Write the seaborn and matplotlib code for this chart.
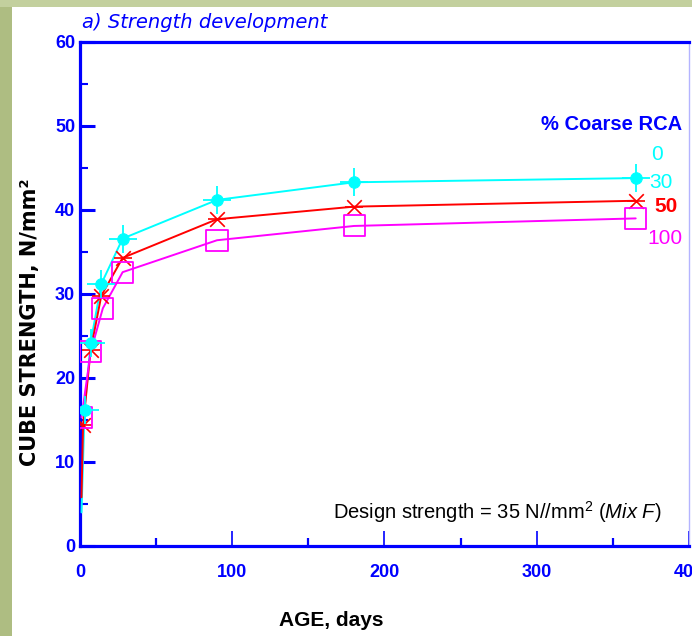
import matplotlib
matplotlib.use("Agg")
import matplotlib.pyplot as plt
import seaborn as sns
import pandas as pd
from matplotlib.patches import Rectangle

# Test ages (days) and mean cube strengths (N/mm^2) per % coarse RCA
age_0 = [3, 7, 14, 28, 90, 180, 365]
strength_0 = [16.2, 24.2, 31.2, 36.6, 41.2, 43.3, 43.8]
age_50 = [2, 7, 14, 28, 90, 180, 365]
strength_50 = [14.4, 23.3, 29.8, 34.3, 38.9, 40.4, 41.1]
age_100 = [1, 7, 15, 28, 90, 180, 365]
strength_100 = [15.3, 23.1, 28.3, 32.6, 36.4, 38.1, 39.0]

# Early-age start of each fitted curve
curve_start_age = [1, 1, 1]
curve_start_strength = [4.0, 5.8, 15.3]

legend_title = "% Coarse RCA"
legend_labels = ["0", "30", "50", "100"]
x_ticks = [0, 100, 200, 300, 400]
y_ticks = [0, 10, 20, 30, 40, 50, 60]

CYAN = "#00FFFF"
RED = "#FF0000"
MAGENTA = "#FF00FF"
BLUE = "#0000FF"

sns.set_theme(style="white")
plt.rcParams["font.family"] = ["Liberation Sans", "DejaVu Sans"]
plt.rcParams["mathtext.fontset"] = "custom"
plt.rcParams["mathtext.rm"] = "Liberation Sans"
plt.rcParams["mathtext.it"] = "Liberation Sans:italic"
plt.rcParams["mathtext.bf"] = "Liberation Sans:bold"

fig = plt.figure(figsize=(6.92, 6.36), dpi=100)
fig.patch.set_facecolor("white")

# textured green frame strips along the top and left edge
fig.add_artist(Rectangle((0, 0), 12 / 692, 1, transform=fig.transFigure,
                         facecolor="#aebd82", edgecolor="none", zorder=0))
fig.add_artist(Rectangle((0, 1 - 7 / 636), 1, 7 / 636, transform=fig.transFigure,
                         facecolor="#c3d09e", edgecolor="none", zorder=0))

ax = fig.add_axes([80 / 692, 1 - 546 / 636, 609 / 692, 504 / 636])
ax.set_facecolor("white")

series = [
    (age_0, strength_0, CYAN, 0),
    (age_50, strength_50, RED, 1),
    (age_100, strength_100, MAGENTA, 2),
]
for ages, vals, col, i in series:
    df = pd.DataFrame({"age": [curve_start_age[i]] + ages,
                       "strength": [curve_start_strength[i]] + vals})
    sns.lineplot(data=df, x="age", y="strength", color=col, lw=1.4, ax=ax,
                 estimator=None, sort=True, zorder=3)

# markers
df0 = pd.DataFrame({"age": age_0, "strength": strength_0})
sns.scatterplot(data=df0, x="age", y="strength", marker="o", s=70,
                color=CYAN, edgecolor=CYAN, ax=ax, zorder=5)
sns.scatterplot(data=df0, x="age", y="strength", marker="+", s=380,
                color=CYAN, linewidth=1.3, ax=ax, zorder=5)

df50 = pd.DataFrame({"age": age_50, "strength": strength_50})
sns.scatterplot(data=df50, x="age", y="strength", marker="x", s=110,
                color=RED, linewidth=1.2, ax=ax, zorder=4)
sns.scatterplot(data=df50, x="age", y="strength", marker="_", s=170,
                color=RED, linewidth=1.2, ax=ax, zorder=4)

df100 = pd.DataFrame({"age": age_100, "strength": strength_100})
sns.scatterplot(data=df100, x="age", y="strength", marker="s", s=230,
                facecolor="none", edgecolor=MAGENTA, linewidth=1.3, ax=ax, zorder=4)

ax.set_xlim(0, 400)
ax.set_ylim(0, 60)
ax.set_xticks(x_ticks)
ax.set_xticks([50, 150, 250, 350], minor=True)
ax.set_yticks(y_ticks)
ax.set_yticks([5, 15, 25, 35, 45, 55], minor=True)
ax.tick_params(axis="both", which="both", direction="in", colors=BLUE,
               labelcolor=BLUE, labelsize=13, bottom=True, left=True)
ax.tick_params(axis="y", which="major", length=11, width=2.2, pad=3.5)
ax.tick_params(axis="y", which="minor", length=6, width=1.5)
ax.tick_params(axis="x", which="major", length=11, width=1.2, pad=13)
ax.tick_params(axis="x", which="minor", length=5.5, width=1.6)
for lab in ax.get_xticklabels() + ax.get_yticklabels():
    lab.set_fontweight("bold")

for side in ["left", "bottom", "top"]:
    ax.spines[side].set_color(BLUE)
    ax.spines[side].set_linewidth(2.3)
ax.spines["right"].set_color("#b4b4ff")
ax.spines["right"].set_linewidth(1.0)

ax.set_xlabel("")
ax.set_ylabel("")
fig.text(331 / 692, 1 - 620 / 636, "AGE, days", ha="center", va="center",
         fontsize=15, fontweight="bold", color="black")
fig.text(30 / 692, 1 - 322 / 636, "CUBE STRENGTH, N/mm²", ha="center",
         va="center", rotation=90, fontsize=15, fontweight="bold", color="black",
         family="DejaVu Sans")
fig.text(82 / 692, 1 - 22 / 636, "a) Strength development", ha="left",
         va="center", fontsize=14, fontstyle="italic", color=BLUE,
         family="DejaVu Sans")

# series key on the right
fig.text(682 / 692, 1 - 125 / 636, legend_title, ha="right", va="center",
         fontsize=14.5, fontweight="bold", color=BLUE)
key_pos = [(657, 155, CYAN), (661, 183, CYAN), (666, 207, RED), (665, 239, MAGENTA)]
for lab, (kx, ky, kc) in zip(legend_labels, key_pos):
    fig.text(kx / 692, 1 - ky / 636, lab, ha="center", va="center",
             fontsize=15, fontweight="bold" if kc == RED else "normal", color=kc)

fig.text(662 / 692, 1 - 512 / 636, "Design strength = 35 N//mm$^2$ $\\it{(Mix\\ F)}$",
         ha="right", va="center", fontsize=14.5, color="black")

fig.savefig("out.png", dpi=100)
